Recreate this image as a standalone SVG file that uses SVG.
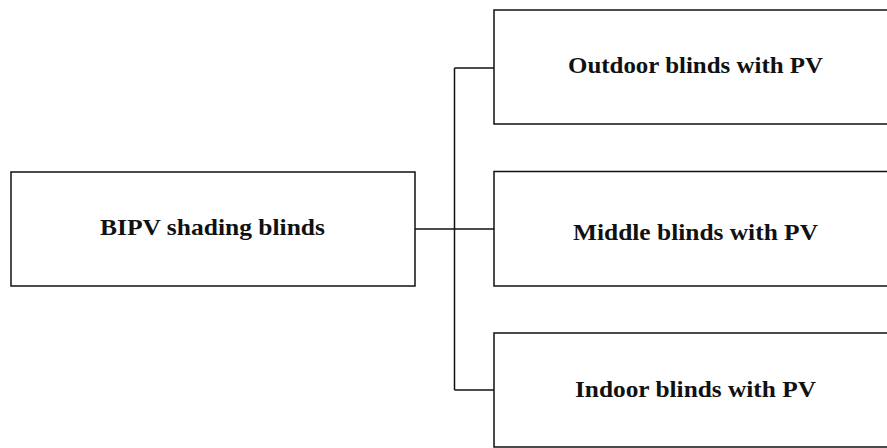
<svg xmlns="http://www.w3.org/2000/svg" width="887" height="448" viewBox="0 0 887 448">
<style>
.box{fill:#fff;stroke:#111;stroke-width:1.5}
.lbl{font-family:'Liberation Serif','Times New Roman',serif;font-weight:700;font-size:24px;fill:#111;text-anchor:middle}
.con{fill:none;stroke:#111;stroke-width:1.5}
</style>
<rect width="887" height="448" fill="#fff"/>
<g id="connectors">
<line class="con" x1="415" y1="229" x2="494" y2="229"/>
<line class="con" x1="454.5" y1="68" x2="454.5" y2="390"/>
<line class="con" x1="454.5" y1="68" x2="494" y2="68"/>
<line class="con" x1="454.5" y1="390" x2="494" y2="390"/>
</g>
<g id="root">
<rect class="box" x="11" y="172" width="404" height="114"/>
<text class="lbl" x="212.5" y="235" textLength="225" lengthAdjust="spacingAndGlyphs">BIPV shading blinds</text>
</g>
<g id="outdoor">
<rect class="box" x="494" y="10" width="400" height="114"/>
<text class="lbl" x="695.5" y="73" textLength="255" lengthAdjust="spacingAndGlyphs">Outdoor blinds with PV</text>
</g>
<g id="middle">
<rect class="box" x="494" y="171.5" width="400" height="114.5"/>
<text class="lbl" x="695.5" y="240" textLength="245" lengthAdjust="spacingAndGlyphs">Middle blinds with PV</text>
</g>
<g id="indoor">
<rect class="box" x="494" y="333" width="400" height="114"/>
<text class="lbl" x="695.5" y="397" textLength="241" lengthAdjust="spacingAndGlyphs">Indoor blinds with PV</text>
</g>
</svg>
